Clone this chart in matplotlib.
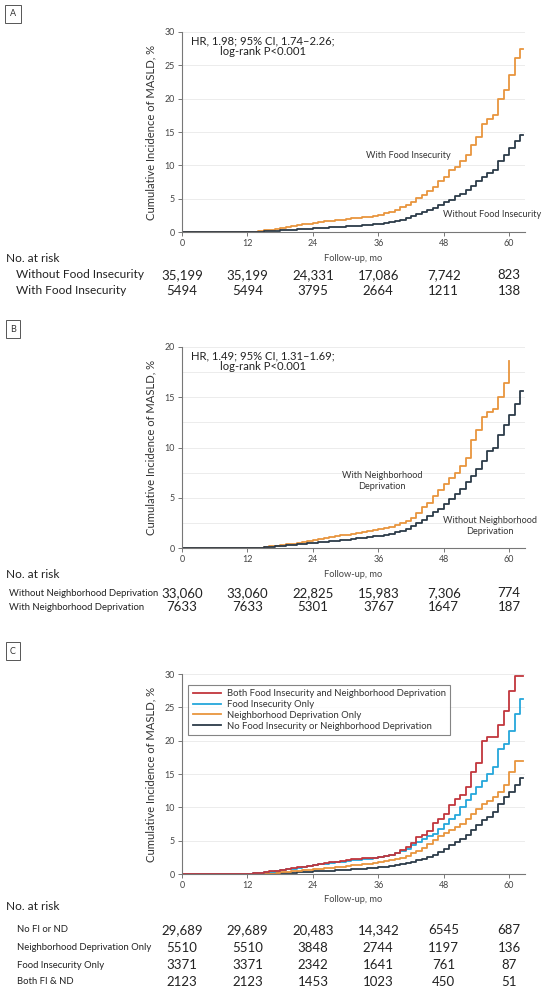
import numpy as np
import matplotlib
matplotlib.use("Agg")
import matplotlib.pyplot as plt
from matplotlib.transforms import blended_transform_factory

plt.rcParams['font.family'] = ['Lato', 'DejaVu Sans']

# ---- curve data (cumulative incidence, %, by month since baseline) ----
months = np.arange(0, 63)

a_with_fi = [0]*12 + [0.05, 0.1, 0.2, 0.3, 0.4, 0.5, 0.65, 0.8, 0.95, 1.05, 1.2, 1.3,
             1.4, 1.55, 1.65, 1.7, 1.8, 1.9, 2.0, 2.1, 2.2, 2.25, 2.35, 2.5,
             2.65, 2.85, 3.1, 3.4, 3.8, 4.1, 4.6, 5.1, 5.6, 6.2, 6.8, 7.6,
             8.3, 9.3, 9.7, 10.6, 11.5, 13.0, 14.2, 16.2, 16.9, 17.5, 20.0, 21.3,
             23.5, 26.0, 27.4]
a_without_fi = [0]*13 + [0.03, 0.08, 0.12, 0.17, 0.22, 0.27, 0.32, 0.37, 0.42, 0.47, 0.52,
                0.57, 0.62, 0.67, 0.72, 0.77, 0.82, 0.87, 0.92, 0.98, 1.04, 1.1, 1.17,
                1.25, 1.35, 1.5, 1.65, 1.85, 2.1, 2.4, 2.7, 3.0, 3.35, 3.7, 4.05,
                4.5, 4.9, 5.4, 5.8, 6.3, 6.9, 7.7, 8.3, 8.9, 9.3, 10.6, 11.6,
                12.6, 13.6, 14.6]

b_with_nd = [0]*13 + [0.03, 0.07, 0.12, 0.18, 0.24, 0.3, 0.38, 0.46, 0.55, 0.63, 0.72,
             0.8, 0.9, 1.0, 1.1, 1.18, 1.27, 1.35, 1.43, 1.5, 1.6, 1.7, 1.78,
             1.9, 2.0, 2.15, 2.35, 2.55, 2.75, 3.05, 3.5, 4.1, 4.5, 5.2, 5.8,
             6.4, 7.0, 7.5, 8.2, 9.0, 10.7, 11.7, 13.0, 13.5, 13.8, 15.0, 16.4,
             18.6]
b_without_nd = [0]*13 + [0.03, 0.07, 0.11, 0.15, 0.2, 0.25, 0.3, 0.35, 0.4, 0.45, 0.5,
                0.55, 0.6, 0.65, 0.7, 0.75, 0.8, 0.87, 0.93, 1.0, 1.05, 1.1, 1.18,
                1.25, 1.35, 1.45, 1.58, 1.75, 1.95, 2.2, 2.5, 2.85, 3.2, 3.6, 3.9,
                4.4, 4.9, 5.4, 5.9, 6.6, 7.2, 7.9, 8.7, 9.7, 10.0, 11.2, 12.2,
                13.2, 14.3, 15.6]

c_both = [0]*12 + [0.03, 0.1, 0.18, 0.3, 0.4, 0.5, 0.6, 0.72, 0.85, 1.0, 1.1, 1.22,
          1.35, 1.5, 1.7, 1.8, 1.85, 1.95, 2.1, 2.2, 2.3, 2.35, 2.4, 2.45,
          2.5, 2.7, 2.85, 3.2, 3.6, 4.1, 4.7, 5.5, 5.8, 6.5, 7.7, 8.3,
          9.0, 10.4, 11.2, 11.8, 13.1, 15.35, 16.7, 19.9, 20.6, 20.6, 22.3, 24.5,
          27.5, 29.65, 29.65]
c_fi_only = [0]*12 + [0.03, 0.08, 0.15, 0.25, 0.35, 0.45, 0.55, 0.68, 0.8, 0.95, 1.05, 1.2,
             1.35, 1.45, 1.55, 1.65, 1.75, 1.85, 1.95, 2.05, 2.15, 2.2, 2.3, 2.4,
             2.5, 2.65, 2.85, 3.1, 3.4, 3.8, 4.3, 4.8, 5.3, 5.7, 6.0, 6.8,
             7.5, 8.3, 8.8, 10.0, 11.1, 12.0, 13.0, 14.0, 15.0, 16.0, 18.7, 19.5,
             21.4, 24.0, 26.2]
c_nd_only = [0]*13 + [0.03, 0.06, 0.1, 0.14, 0.19, 0.25, 0.31, 0.38, 0.45, 0.53, 0.61,
             0.7, 0.77, 0.85, 0.95, 1.02, 1.1, 1.2, 1.28, 1.36, 1.45, 1.55, 1.65,
             1.75, 1.9, 2.05, 2.25, 2.45, 2.7, 3.1, 3.4, 3.9, 4.5, 5.05, 5.65,
             6.15, 6.55, 7.05, 7.55, 8.3, 9.0, 9.8, 10.5, 11.0, 11.5, 12.3, 13.4,
             15.25, 17.0, 17.0]
c_neither = [0]*13 + [0.01, 0.03, 0.05, 0.07, 0.1, 0.12, 0.16, 0.2, 0.25, 0.3, 0.35,
             0.4, 0.45, 0.48, 0.5, 0.55, 0.6, 0.65, 0.7, 0.75, 0.8, 0.87, 0.93,
             1.0, 1.1, 1.2, 1.3, 1.45, 1.6, 1.8, 2.05, 2.3, 2.6, 2.9, 3.3,
             3.8, 4.3, 4.8, 5.3, 5.8, 6.55, 7.3, 8.05, 8.55, 9.3, 10.5, 11.5,
             12.3, 13.3, 14.4]

# ---- numbers at risk ----
risk_times = [0, 12, 24, 36, 48, 60]
a_risk_labels = ['Without Food Insecurity', 'With Food Insecurity']
a_risk = [['35,199', '35,199', '24,331', '17,086', '7,742', '823'],
          ['5494', '5494', '3795', '2664', '1211', '138']]
b_risk_labels = ['Without Neighborhood Deprivation', 'With Neighborhood Deprivation']
b_risk = [['33,060', '33,060', '22,825', '15,983', '7,306', '774'],
          ['7633', '7633', '5301', '3767', '1647', '187']]
c_risk_labels = ['No FI or ND', 'Neighborhood Deprivation Only', 'Food Insecurity Only', 'Both FI & ND']
c_risk = [['29,689', '29,689', '20,483', '14,342', '6545', '687'],
          ['5510', '5510', '3848', '2744', '1197', '136'],
          ['3371', '3371', '2342', '1641', '761', '87'],
          ['2123', '2123', '1453', '1023', '450', '51']]

c_legend = ['Both Food Insecurity and Neighborhood Deprivation', 'Food Insecurity Only',
            'Neighborhood Deprivation Only', 'No Food Insecurity or Neighborhood Deprivation']

ORANGE = '#E8953E'
DARK = '#2C3B49'
RED = '#C2363D'
BLUE = '#25A7DB'

W, H = 550, 992
fig = plt.figure(figsize=(W/100, H/100), dpi=100)


def fx(px):
    return px / W


def fy(py):
    return 1 - py / H


def make_axes(top_px, bottom_px, ymax, yticks, minor=None):
    ax = fig.add_axes([fx(182), fy(bottom_px), fx(525) - fx(182), fy(top_px) - fy(bottom_px)])
    ax.set_xlim(0, 62.9)
    ax.set_ylim(0, ymax)
    ax.set_xticks(risk_times)
    ax.set_yticks(yticks)
    if minor is not None:
        ax.set_yticks(minor, minor=True)
        ax.tick_params(axis='y', which='minor', length=0)
        ax.grid(axis='y', which='minor', color='#ececec', lw=0.7)
    ax.grid(axis='y', which='major', color='#ececec', lw=0.7)
    ax.set_axisbelow(True)
    for s in ['top', 'right']:
        ax.spines[s].set_visible(False)
    for s in ['left', 'bottom']:
        ax.spines[s].set_color('#777777')
        ax.spines[s].set_linewidth(0.8)
    ax.tick_params(axis='both', which='major', labelsize=6.4, colors='#777777',
                   labelcolor='#444444', length=3, width=0.7, pad=2)
    ax.set_xlabel('Follow-up, mo', fontsize=6.7, color='#444444', labelpad=4)
    ax.set_ylabel('Cumulative Incidence of MASLD, %', fontsize=8.1, color='#333333', labelpad=6)
    return ax


def km(ax, vals, color, t_end=62.6):
    t = months[:len(vals)]
    t = np.append(t, t_end)
    v = np.append(vals, vals[-1])
    ax.step(t, v, where='post', color=color, lw=1.3)


def panel_box(letter, py):
    fig.text(fx(13), fy(py), letter, fontsize=6.5, ha='center', va='center', color='#333333',
             bbox=dict(boxstyle='square,pad=0.5', fc='white', ec='#555555', lw=0.7))


def risk_table(ax, labels, rows, title_py, row_pys, label_px, label_fs):
    tr = blended_transform_factory(ax.transData, fig.transFigure)
    fig.text(fx(6), fy(title_py), 'No. at risk', fontsize=8.6, va='center', ha='left', color='#222222')
    for lab, row, py in zip(labels, rows, row_pys):
        fig.text(fx(label_px), fy(py), lab, fontsize=label_fs, va='center', ha='left', color='#222222')
        for t, s in zip(risk_times, row):
            ax.text(t, fy(py), s, transform=tr, fontsize=9.5, ha='center', va='center',
                    color='#222222', clip_on=False)


# ---- Panel A ----
panel_box('A', 14)
axA = make_axes(31.7, 232.3, 30, [0, 5, 10, 15, 20, 25, 30])
km(axA, a_with_fi, ORANGE)
km(axA, a_without_fi, DARK)
axA.text(0.235, 0.93, 'HR, 1.98; 95% CI, 1.74\u20132.26;\nlog-rank P<0.001', transform=axA.transAxes,
         fontsize=8.1, ha='center', va='center', color='#222222', linespacing=0.95)
axA.text(41.5, 11.5, 'With Food Insecurity', fontsize=6.6, ha='center', va='center', color='#333333')
axA.text(56.8, 2.7, 'Without Food Insecurity', fontsize=6.6, ha='center', va='center', color='#333333')
risk_table(axA, a_risk_labels, a_risk, 259, [275, 291], 16, 8.6)

# ---- Panel B ----
panel_box('B', 329)
axB = make_axes(346.7, 548.3, 20, [0, 5, 10, 15, 20], minor=np.arange(2.5, 20, 5))
km(axB, b_with_nd, ORANGE, t_end=60)
km(axB, b_without_nd, DARK)
axB.text(0.235, 0.93, 'HR, 1.49; 95% CI, 1.31\u20131.69;\nlog-rank P<0.001', transform=axB.transAxes,
         fontsize=8.1, ha='center', va='center', color='#222222', linespacing=0.95)
axB.text(36.7, 6.7, 'With Neighborhood\nDeprivation', fontsize=6.6, ha='center', va='center',
         color='#333333', linespacing=1.3)
axB.text(56.4, 2.25, 'Without Neighborhood\nDeprivation', fontsize=6.6, ha='center', va='center',
         color='#333333', linespacing=1.3)
risk_table(axB, b_risk_labels, b_risk, 575, [593, 607], 9, 6.8)

# ---- Panel C ----
panel_box('C', 651)
axC = make_axes(674, 874, 30, [0, 5, 10, 15, 20, 25, 30])
km(axC, c_neither, DARK)
km(axC, c_nd_only, ORANGE)
km(axC, c_fi_only, BLUE)
km(axC, c_both, RED)
handles = [plt.Line2D([], [], color=c, lw=1.3) for c in [RED, BLUE, ORANGE, DARK]]
leg = axC.legend(handles, c_legend, loc='upper left', bbox_to_anchor=(0.005, 0.97), fontsize=6.8,
                 frameon=True, fancybox=False, edgecolor='#666666', handlelength=3.0,
                 handletextpad=0.6, labelspacing=0.2, borderpad=0.45)
leg.get_frame().set_linewidth(0.8)
for txt in leg.get_texts():
    txt.set_color('#333333')
risk_table(axC, c_risk_labels, c_risk, 907, [930, 948, 965, 982], 17, 6.8)

fig.savefig('out.png', dpi=100)
